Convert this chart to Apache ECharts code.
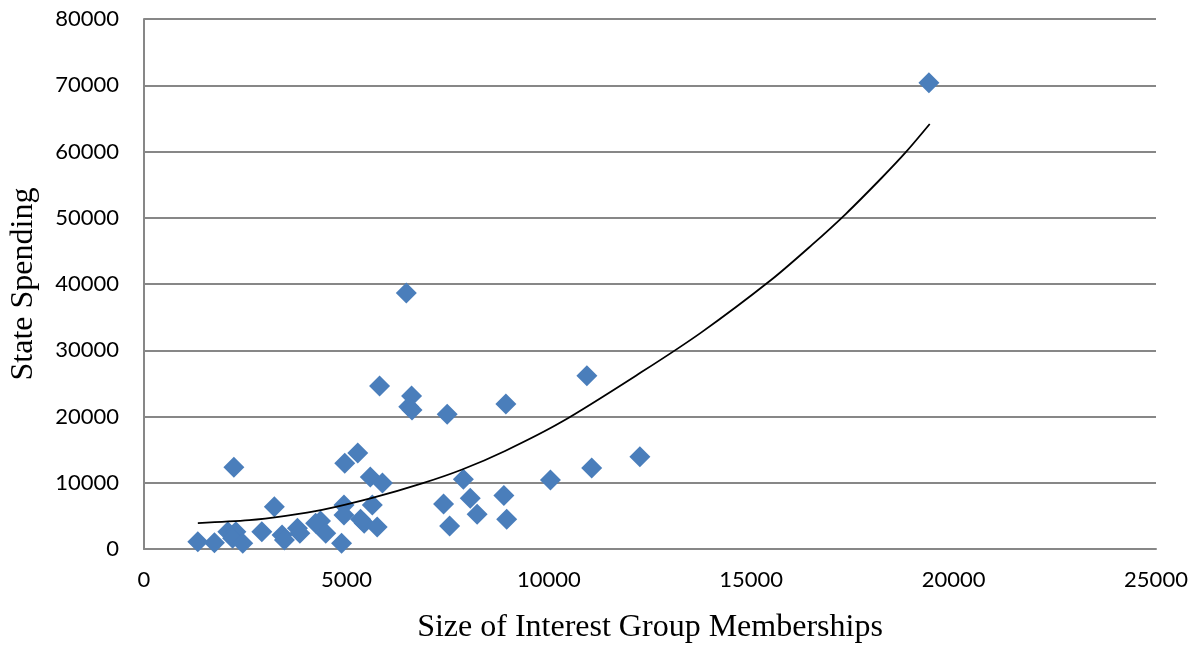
<!DOCTYPE html>
<html>
<head>
    <meta charset="utf-8">
    <title>State Spending</title>
    <script src="https://cdn.jsdelivr.net/npm/echarts@6/dist/echarts.min.js"></script>
</head>
<body style="margin:0">
    <div id="main" style="width: 1200px;height:650px;"></div>
    <script type="text/javascript">
// interest group membership size (x) and state spending (y), one pair per state
var membership = [1330, 1740, 2070, 2270, 2190, 2440, 2220, 2910, 3220, 3410, 3470, 3790, 3850,
    4240, 4360, 4490, 4880, 4940, 4940, 4960, 5280, 5440, 5350, 5590, 5640, 5760, 5890, 5820,
    6610, 6540, 6620, 6480, 7400, 7550, 7490, 7890, 8060, 8230, 8890, 8960, 8940, 10040,
    10940, 11060, 12250, 19390];
var spending = [1100, 950, 2610, 2610, 1620, 860, 12330, 2610, 6390, 2110, 1360, 3120, 2370,
    3880, 4230, 2370, 860, 6640, 5130, 12940, 14490, 3880, 4500, 10870, 6640, 3320, 9960, 24600,
    23090, 21480, 20980, 38640, 6790, 3470, 20330, 10520, 7650, 5240, 8080, 4480, 21890, 10410,
    26160, 12230, 13930, 70380];

// trend curve
var trendX = [1330, 2600, 3500, 4400, 5640, 6870, 7860, 8920, 10320, 12290, 13770, 15490, 16500, 17340, 18220, 18820, 19410];
var trendY = [3920, 4350, 5000, 5890, 7700, 9900, 12000, 14800, 19200, 26700, 32700, 40600, 45900, 50600, 56000, 59900, 64150];

var myChart = echarts.init(document.getElementById('main'));

var points = [];
for (var i = 0; i < membership.length; i++) {
    points.push([membership[i], spending[i]]);
}
var trend = [];
for (var j = 0; j < trendX.length; j++) {
    trend.push([trendX[j], trendY[j]]);
}

var gridColor = '#878787';

option = {
    animation: false,
    backgroundColor: '#fff',
    grid: {left: 141, right: 44, top: 19, bottom: 101},
    xAxis: {
        type: 'value',
        min: 0,
        max: 25000,
        interval: 5000,
        name: 'Size of Interest Group Memberships',
        nameLocation: 'middle',
        nameGap: 63,
        nameTextStyle: {fontFamily: 'Liberation Serif', fontSize: 32, color: '#000'},
        axisLine: {lineStyle: {color: gridColor, width: 2}},
        axisTick: {show: false},
        axisLabel: {fontFamily: 'Lato', fontSize: 22, color: '#000', margin: 20,
            formatter: function (v) { return String(v); }},
        splitLine: {show: false}
    },
    yAxis: {
        type: 'value',
        min: 0,
        max: 80000,
        interval: 10000,
        name: 'State Spending',
        nameLocation: 'middle',
        nameGap: 104,
        nameTextStyle: {fontFamily: 'Liberation Serif', fontSize: 32, color: '#000'},
        axisLine: {show: true, lineStyle: {color: gridColor, width: 2}},
        axisTick: {show: false},
        axisLabel: {fontFamily: 'Lato', fontSize: 22, color: '#000', margin: 25,
            formatter: function (v) { return String(v); }},
        splitLine: {lineStyle: {color: gridColor, width: 2}}
    },
    series: [
        {
            type: 'scatter',
            symbol: 'diamond',
            symbolSize: 21,
            itemStyle: {color: '#4a7ebb', opacity: 1},
            data: points,
            z: 2
        },
        {
            type: 'line',
            smooth: 0.3,
            showSymbol: false,
            lineStyle: {color: '#000', width: 1.8},
            data: trend,
            z: 3
        }
    ]
};

myChart.setOption(option);
    </script>
</body>
</html>
